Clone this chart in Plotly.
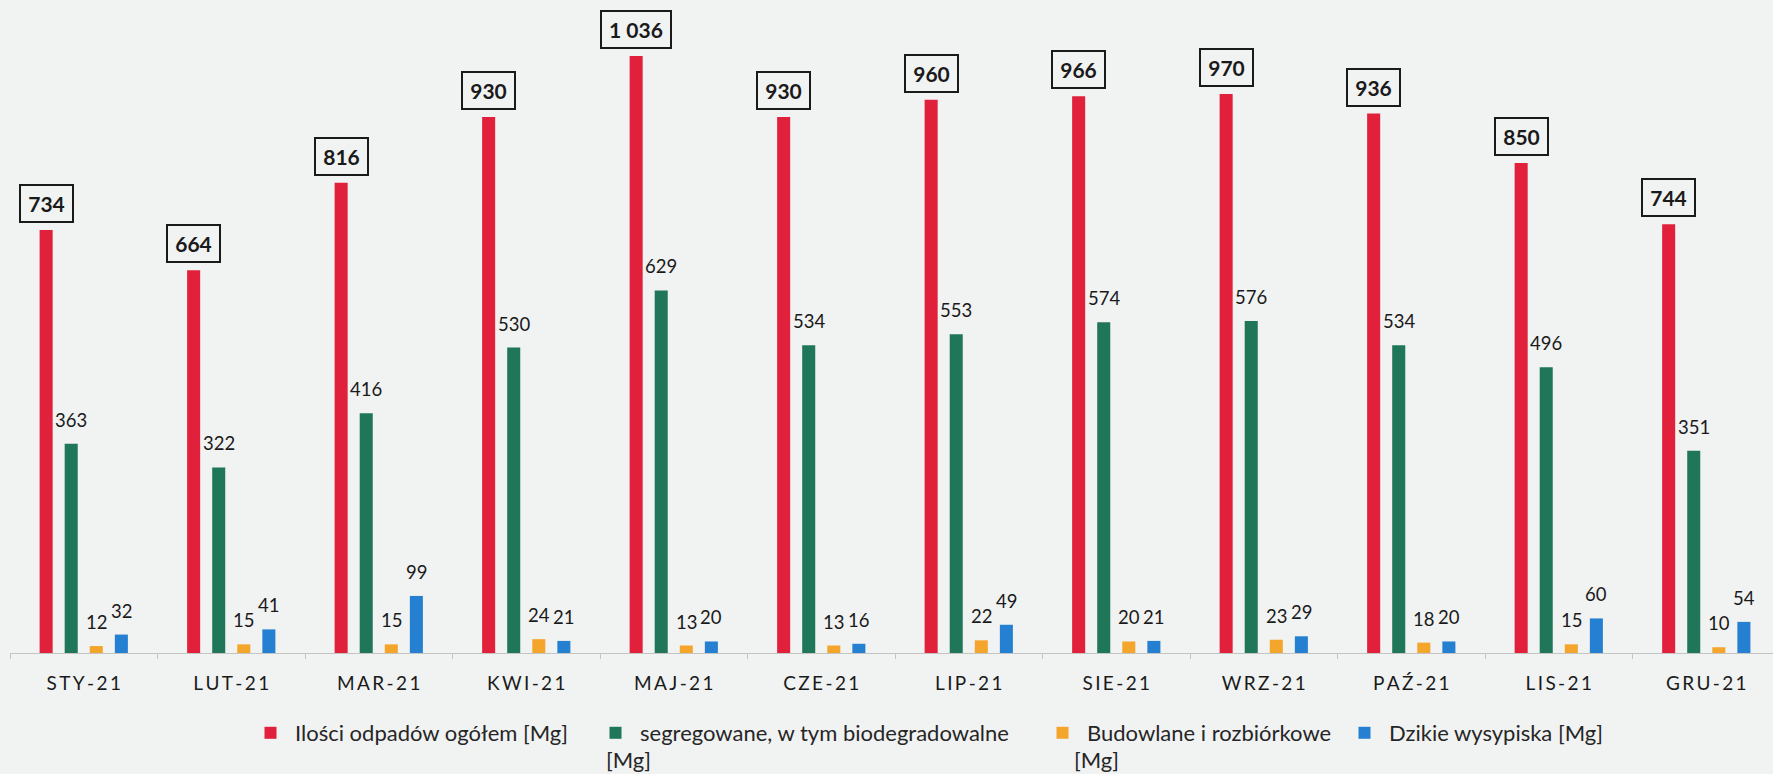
import plotly.graph_objects as go

months = ["STY-21", "LUT-21", "MAR-21", "KWI-21", "MAJ-21", "CZE-21",
          "LIP-21", "SIE-21", "WRZ-21", "PAŹ-21", "LIS-21", "GRU-21"]
total = [734, 664, 816, 930, 1036, 930, 960, 966, 970, 936, 850, 744]
segreg = [363, 322, 416, 530, 629, 534, 553, 574, 576, 534, 496, 351]
budowl = [12, 15, 15, 24, 13, 13, 22, 20, 23, 18, 15, 10]
dzikie = [32, 41, 99, 21, 20, 16, 49, 21, 29, 20, 60, 54]

names = ["Ilości odpadów ogółem [Mg]",
         "segregowane, w tym biodegradowalne",
         "Budowlane i rozbiórkowe",
         "Dzikie wysypiska [Mg]"]
colors = ["#e1203b", "#1f7659", "#f4a52c", "#2580d2"]

W, H = 1773, 774
ML, MR, MT, MB = 10, 0, 0, 121
FONT = "Lato"
TXT = "#262626"
BG = "#f1f2f2"

fig = go.Figure()
series = [total, segreg, budowl, dzikie]
legends = ["legend", "legend2", "legend3", "legend4"]
for i, (vals, nm, col) in enumerate(zip(series, names, colors)):
    fig.add_trace(go.Bar(x=months, y=vals, name=nm, marker_color=col,
                         marker_line_width=0, legend=legends[i]))

def fmt(v):
    return f"{v:,}".replace(",", " ")

anns = []
slot = 25  # px per trace slot within a group
offsets = [-1.5 * slot, -0.5 * slot, 0.5 * slot, 1.5 * slot]
for m, v in zip(months, total):
    anns.append(dict(x=m, y=v, xref="x", yref="y", text=f"<b>{fmt(v)}</b>",
                     showarrow=False, xshift=offsets[0], yshift=7,
                     yanchor="bottom", xanchor="center",
                     font=dict(family=FONT, size=21, color="#1a1a1a"),
                     bordercolor="#1a1a1a", borderwidth=2, borderpad=5,
                     width=41 if v < 1000 else 58))
for si, vals in enumerate([segreg, budowl, dzikie], start=1):
    for m, v in zip(months, vals):
        anns.append(dict(x=m, y=v, xref="x", yref="y", text=fmt(v),
                         showarrow=False, xshift=offsets[si], yshift=11,
                         yanchor="bottom", xanchor="center",
                         font=dict(family=FONT, size=18.5, color="#1a1a1a")))

# second lines of the wrapped legend labels
pw = W - ML - MR
ph = H - MT - MB
for px, txt in [(604, "[Mg]"), (1072, "[Mg]")]:
    anns.append(dict(x=(px - ML) / pw, y=(H - MB - 759) / ph, xref="paper", yref="paper",
                     text=txt, showarrow=False, xanchor="left", yanchor="middle",
                     font=dict(family=FONT, size=22, color=TXT)))

ticktext = ["\u2009".join(list(m)) for m in months]

layout_legends = {}
sym_x = [268, 613, 1060, 1362]
for i, lg in enumerate(legends):
    layout_legends[lg] = dict(
        xref="container", yref="container",
        x=(sym_x[i] - 22) / W, y=(H - 733) / H,
        xanchor="left", yanchor="middle",
        orientation="h", bgcolor="rgba(0,0,0,0)",
        font=dict(family=FONT, size=22, color=TXT),
        itemwidth=39, traceorder="normal")

fig.update_layout(
    width=W, height=H,
    margin=dict(l=ML, r=MR, t=MT, b=MB, autoexpand=False),
    paper_bgcolor=BG, plot_bgcolor=BG,
    barmode="group", bargap=0.32, bargroupgap=0.48,
    font=dict(family=FONT, color=TXT),
    annotations=anns,
    showlegend=True,
    **layout_legends,
)
fig.update_xaxes(range=[-0.5, 11.5 - 7 / 147], tickvals=months, ticktext=ticktext,
                 showline=True, linecolor="#c4c4c4", linewidth=1,
                 ticks="outside", tickson="boundaries", ticklen=5, tickcolor="#c4c4c4",
                 ticklabelstandoff=13,
                 tickfont=dict(family=FONT, size=19, color="#1a1a1a"),
                 showgrid=False, zeroline=False, fixedrange=True, automargin=False)
fig.update_yaxes(range=[0, 1133], visible=False, showgrid=False, zeroline=False)

fig.write_html("out.html",
               config={"displayModeBar": False},
               post_script="document.body.style.margin='0';"
                           "document.body.style.overflow='hidden';"
                           "document.body.style.background='" + BG + "';")
